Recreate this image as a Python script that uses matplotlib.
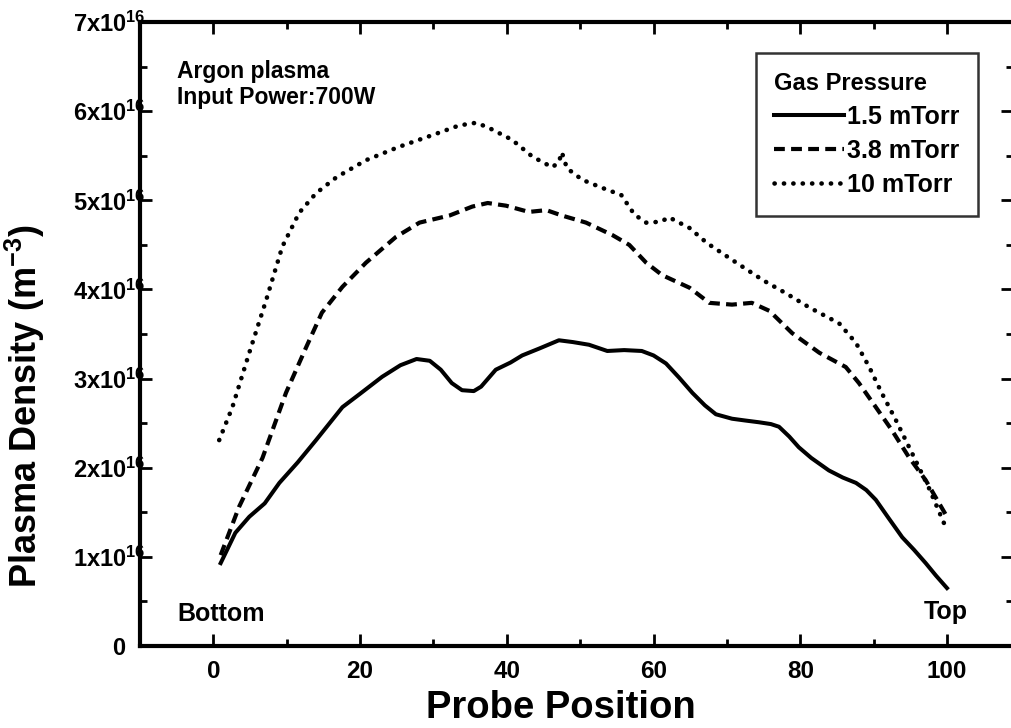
import numpy as np
import matplotlib
matplotlib.use("Agg")
import matplotlib.pyplot as plt
from matplotlib.ticker import MultipleLocator, FixedLocator, FixedFormatter

plt.rcParams['font.family'] = ['Liberation Sans', 'DejaVu Sans']
plt.rcParams['font.weight'] = 'bold'
plt.rcParams['mathtext.fontset'] = 'custom'
plt.rcParams['mathtext.rm'] = 'Liberation Sans:bold'
plt.rcParams['mathtext.it'] = 'Liberation Sans:bold'
plt.rcParams['mathtext.bf'] = 'Liberation Sans:bold'

# probe position along the chamber (bottom -> top)
pos_15 = [1, 3, 4.9, 7, 9, 11.5, 14, 17.6, 20, 23, 25.5, 27.7, 29.5, 31, 32.5, 33.9, 35.5,
          36.5, 38.5, 40.5, 42.1, 44.5, 47.1, 49, 51.2, 53.7, 56, 58.4, 60, 61.7, 63.5, 65.3,
          67, 68.5, 70.7, 72.5, 74.4, 76, 77.1, 78.5, 79.8, 81.5, 83.9, 85.8, 87.6, 89,
          90.3, 92, 93.9, 95.5, 97.1, 98.5, 100]
dens_15 = [0.93, 1.27, 1.45, 1.60, 1.83, 2.06, 2.31, 2.68, 2.83, 3.02, 3.15, 3.22, 3.20, 3.10,
           2.95, 2.87, 2.86, 2.91, 3.10, 3.18, 3.26, 3.34, 3.43, 3.41, 3.38, 3.31, 3.32, 3.31,
           3.26, 3.17, 3.01, 2.84, 2.70, 2.60, 2.55, 2.53, 2.51, 2.49, 2.46, 2.35, 2.23, 2.11,
           1.97, 1.89, 1.83, 1.75, 1.64, 1.44, 1.22, 1.08, 0.93, 0.79, 0.65]

pos_38 = [1, 3.5, 6.7, 9.9, 12.7, 14.8, 17.6, 20.8, 24.9, 28.1, 32.2, 35.3, 37.4, 39.9, 43,
          45.4, 47.5, 50.8, 54.4, 56.7, 59, 61.2, 64.9, 67.6, 70.7, 73.4, 75.8, 78.9, 82.6,
          86.2, 88, 90.3, 92.5, 94.8, 97.1, 100]
dens_38 = [1.02, 1.56, 2.11, 2.84, 3.36, 3.74, 4.03, 4.30, 4.59, 4.75, 4.83, 4.93, 4.97, 4.94, 4.87,
           4.89, 4.83, 4.75, 4.61, 4.50, 4.30, 4.16, 4.02, 3.85, 3.83, 3.85, 3.76, 3.51, 3.29,
           3.13, 2.95, 2.68, 2.42, 2.12, 1.86, 1.45]

pos_10 = [0.8, 2.6, 4.9, 7.2, 9.4, 11.7, 14, 16.8, 20.8, 25.3, 29.8, 33.5, 35.8, 37.4, 40.7,
          43.5, 46.2, 47.1, 47.5, 48.2, 50.3, 53, 55.6, 57.4, 59, 61, 62.1, 64.9, 67.3,
          71.3, 75, 78, 81.2, 85.3, 87.6, 89.4, 91.1, 93, 95.2, 97.5, 100]
dens_10 = [2.31, 2.68, 3.29, 3.88, 4.48, 4.86, 5.08, 5.26, 5.45, 5.60, 5.73, 5.84, 5.87, 5.82, 5.68,
           5.49, 5.37, 5.43, 5.54, 5.36, 5.23, 5.14, 5.06, 4.84, 4.75, 4.76, 4.81, 4.69, 4.52,
           4.30, 4.10, 3.96, 3.80, 3.62, 3.40, 3.13, 2.84, 2.54, 2.17, 1.78, 1.30]

labels = ['1.5 mTorr', '3.8 mTorr', '10 mTorr']
ytick_vals = [0, 1, 2, 3, 4, 5, 6, 7]
ytick_text = ['0   '] + ['%dx10$^{16}$' % v for v in ytick_vals[1:]]

fig = plt.figure(figsize=(10.12, 7.28), dpi=100)
ax = fig.add_axes([0.1383, 0.1126, 0.8627, 0.8571])

ax.plot(pos_15, dens_15, color='black', lw=2.9, ls='-', solid_joinstyle='round',
        label=labels[0])
ax.plot(pos_38, dens_38, color='black', lw=3.0, ls=(0, (2.6, 1.5)), label=labels[1])
ax.plot(pos_10, dens_10, color='black', lw=3.3, ls=(0, (0.05, 2.0)),
        dash_capstyle='round', label=labels[2])

ax.set_xlim(-10, 109)
ax.set_ylim(0, 7)
ax.xaxis.set_major_locator(MultipleLocator(20))
ax.xaxis.set_minor_locator(MultipleLocator(10))
ax.yaxis.set_major_locator(FixedLocator(ytick_vals))
ax.yaxis.set_major_formatter(FixedFormatter(ytick_text))
ax.yaxis.set_minor_locator(MultipleLocator(0.5))

ax.tick_params(which='both', direction='in', top=True, right=True, width=2)
ax.tick_params(which='major', length=8.5)
ax.tick_params(which='minor', length=5)
ax.tick_params(axis='x', which='major', pad=10, labelsize=17.5)
ax.tick_params(axis='y', which='major', pad=-4, labelsize=17)
for s in ax.spines.values():
    s.set_linewidth(3)

ax.set_xlabel('Probe Position', fontsize=27.5, fontweight='bold')
ax.set_ylabel('Plasma Density (m$^{-3}$)', fontsize=26, fontweight='bold')
ax.xaxis.set_label_coords(0.482, -0.07)
ax.yaxis.set_label_coords(-0.106, 0.385)

ax.text(-4.9, 6.44, 'Argon plasma', fontsize=16.5, va='center', ha='left')
ax.text(-4.9, 6.15, 'Input Power:700W', fontsize=16.5, va='center', ha='left')
ax.text(-4.9, 0.36, 'Bottom', fontsize=18, va='center', ha='left')
ax.text(96.9, 0.38, 'Top', fontsize=18, va='center', ha='left')

leg = ax.legend(loc='upper right', bbox_to_anchor=(0.96, 0.95), borderaxespad=0,
                title='Gas Pressure', title_fontsize=17, fontsize=18,
                handlelength=2.8, handletextpad=0.1, labelspacing=0.4,
                borderpad=0.75, fancybox=False, alignment='left')
leg.get_frame().set_edgecolor('black')
leg.get_frame().set_linewidth(1.8)
leg.get_title().set_fontweight('bold')

fig.savefig('out.png', dpi=100)
